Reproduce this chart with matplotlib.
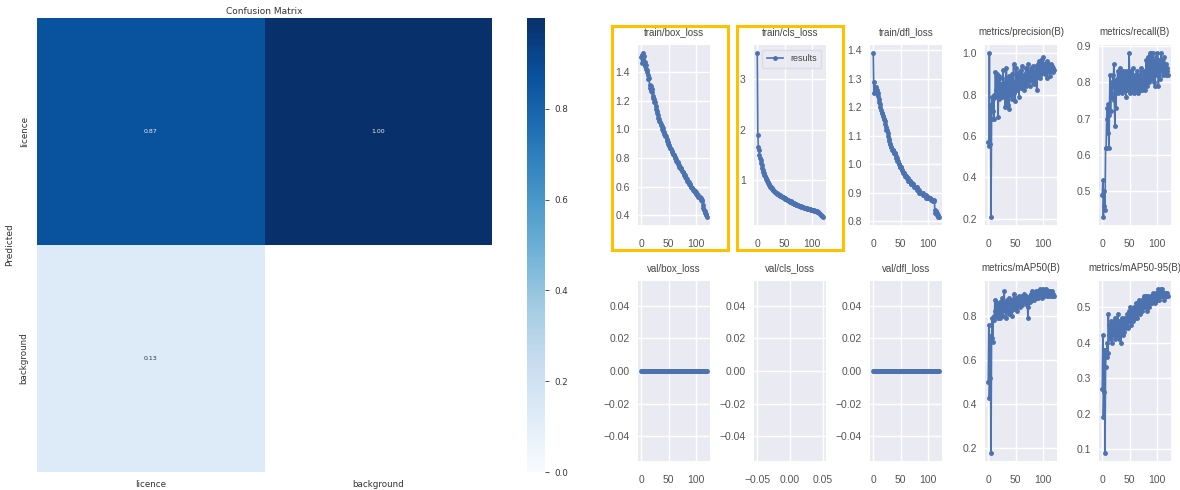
import numpy as np
import matplotlib
matplotlib.use('Agg')
import matplotlib.pyplot as plt
from matplotlib.patches import Rectangle
from matplotlib.ticker import MaxNLocator

# Confusion matrix (normalized)
cm_labels = ['licence', 'background']
cm_values = [[0.87, 1.00],
             [0.13, np.nan]]

# Training results, one value per epoch
epochs = list(range(120))

train_box_loss = [
    1.50, 1.46, 1.52, 1.53, 1.49, 1.51, 1.47, 1.44, 1.45, 1.42,
    1.40, 1.41, 1.38, 1.35, 1.36, 1.31, 1.29, 1.30, 1.27, 1.28,
    1.26, 1.23, 1.22, 1.21, 1.19, 1.19, 1.16, 1.14, 1.13, 1.11,
    1.10, 1.08, 1.07, 1.06, 1.05, 1.04, 1.03, 1.02, 1.00, 1.01,
    0.99, 0.98, 0.97, 0.96, 0.95, 0.95, 0.93, 0.92, 0.91, 0.90,
    0.89, 0.88, 0.87, 0.87, 0.86, 0.85, 0.84, 0.83, 0.83, 0.82,
    0.82, 0.81, 0.80, 0.79, 0.78, 0.77, 0.77, 0.76, 0.75, 0.74,
    0.74, 0.73, 0.73, 0.72, 0.71, 0.70, 0.70, 0.69, 0.68, 0.68,
    0.67, 0.66, 0.66, 0.65, 0.64, 0.63, 0.63, 0.62, 0.62, 0.61,
    0.60, 0.60, 0.59, 0.59, 0.58, 0.58, 0.57, 0.57, 0.56, 0.56,
    0.55, 0.55, 0.54, 0.54, 0.53, 0.53, 0.53, 0.52, 0.52, 0.51,
    0.51, 0.50, 0.47, 0.45, 0.44, 0.43, 0.42, 0.41, 0.40, 0.39]

train_cls_loss = [
    3.52, 1.90, 1.67, 1.60, 1.50, 1.45, 1.40, 1.35, 1.30, 1.25,
    1.20, 1.17, 1.14, 1.10, 1.08, 1.05, 1.03, 1.00, 0.98, 0.96,
    0.95, 0.93, 0.91, 0.90, 0.88, 0.87, 0.85, 0.84, 0.82, 0.81,
    0.80, 0.79, 0.78, 0.77, 0.76, 0.75, 0.74, 0.74, 0.73, 0.72,
    0.72, 0.71, 0.70, 0.70, 0.69, 0.68, 0.68, 0.67, 0.66, 0.66,
    0.65, 0.64, 0.64, 0.63, 0.62, 0.62, 0.61, 0.60, 0.60, 0.59,
    0.58, 0.59, 0.57, 0.56, 0.57, 0.55, 0.55, 0.54, 0.53, 0.54,
    0.53, 0.52, 0.52, 0.51, 0.51, 0.50, 0.50, 0.49, 0.49, 0.49,
    0.48, 0.48, 0.47, 0.47, 0.47, 0.46, 0.46, 0.46, 0.45, 0.45,
    0.45, 0.44, 0.44, 0.44, 0.43, 0.43, 0.43, 0.42, 0.42, 0.42,
    0.42, 0.41, 0.41, 0.41, 0.40, 0.40, 0.40, 0.39, 0.39, 0.38,
    0.38, 0.37, 0.36, 0.35, 0.34, 0.32, 0.31, 0.30, 0.29, 0.28]

train_dfl_loss = [
    1.39, 1.25, 1.29, 1.27, 1.26, 1.27, 1.25, 1.26, 1.25, 1.24,
    1.23, 1.22, 1.21, 1.20, 1.19, 1.18, 1.18, 1.17, 1.17, 1.16,
    1.16, 1.15, 1.14, 1.13, 1.12, 1.12, 1.11, 1.10, 1.09, 1.08,
    1.07, 1.07, 1.06, 1.06, 1.05, 1.05, 1.05, 1.04, 1.04, 1.04,
    1.04, 1.03, 1.02, 1.02, 1.01, 1.01, 1.00, 1.00, 0.99, 0.99,
    0.99, 0.99, 0.98, 0.98, 0.97, 0.97, 0.97, 0.96, 0.96, 0.96,
    0.96, 0.95, 0.95, 0.95, 0.94, 0.94, 0.94, 0.94, 0.93, 0.93,
    0.935, 0.93, 0.93, 0.93, 0.92, 0.92, 0.92, 0.92, 0.92, 0.91,
    0.92, 0.91, 0.91, 0.91, 0.90, 0.90, 0.90, 0.90, 0.90, 0.90,
    0.90, 0.89, 0.89, 0.89, 0.89, 0.89, 0.88, 0.88, 0.88, 0.88,
    0.885, 0.88, 0.88, 0.88, 0.88, 0.875, 0.875, 0.875, 0.87, 0.87,
    0.875, 0.87, 0.84, 0.83, 0.835, 0.83, 0.82, 0.82, 0.815, 0.815]

precision = [
    0.57, 0.55, 1.00, 0.56, 0.75, 0.21, 0.68, 0.79, 0.72, 0.78,
    0.68, 0.80, 0.79, 0.91, 0.82, 0.80, 0.90, 0.86, 0.69, 0.89,
    0.78, 0.88, 0.80, 0.85, 0.81, 0.79, 0.84, 0.92, 0.83, 0.80,
    0.86, 0.74, 0.88, 0.93, 0.81, 0.75, 0.84, 0.89, 0.73, 0.83,
    0.87, 0.80, 0.82, 0.90, 0.78, 0.84, 0.95, 0.81, 0.86, 0.77,
    0.85, 0.93, 0.82, 0.87, 0.84, 0.91, 0.79, 0.88, 0.86, 0.92,
    0.83, 0.89, 0.94, 0.85, 0.88, 0.82, 0.90, 0.87, 0.93, 0.84,
    0.89, 0.86, 0.95, 0.88, 0.91, 0.84, 0.90, 0.93, 0.87, 0.89,
    0.92, 0.86, 0.94, 0.89, 0.85, 0.91, 0.88, 0.94, 0.82, 0.90,
    0.95, 0.89, 0.92, 0.96, 0.88, 0.93, 0.90, 0.97, 0.91, 0.94,
    0.98, 0.92, 0.95, 0.90, 0.94, 0.93, 0.96, 0.88, 0.93, 0.95,
    0.91, 0.94, 0.89, 0.93, 0.95, 0.92, 0.94, 0.91, 0.93, 0.92]

recall = [
    0.49, 0.53, 0.43, 0.50, 0.46, 0.45, 0.62, 0.62, 0.70, 0.73,
    0.66, 0.74, 0.62, 0.71, 0.82, 0.72, 0.77, 0.80, 0.76, 0.82,
    0.79, 0.85, 0.75, 0.68, 0.80, 0.73, 0.81, 0.78, 0.83, 0.77,
    0.80, 0.82, 0.78, 0.84, 0.79, 0.81, 0.77, 0.83, 0.80, 0.78,
    0.82, 0.79, 0.81, 0.76, 0.83, 0.78, 0.80, 0.82, 0.79, 0.88,
    0.80, 0.77, 0.83, 0.79, 0.81, 0.78, 0.84, 0.80, 0.77, 0.82,
    0.79, 0.81, 0.78, 0.83, 0.80, 0.77, 0.82, 0.79, 0.81, 0.78,
    0.80, 0.84, 0.78, 0.81, 0.79, 0.83, 0.80, 0.82, 0.78, 0.81,
    0.86, 0.82, 0.79, 0.87, 0.83, 0.80, 0.88, 0.84, 0.81, 0.88,
    0.85, 0.82, 0.88, 0.83, 0.80, 0.86, 0.79, 0.84, 0.87, 0.82,
    0.88, 0.85, 0.79, 0.83, 0.86, 0.81, 0.84, 0.88, 0.83, 0.86,
    0.82, 0.85, 0.83, 0.87, 0.84, 0.82, 0.85, 0.83, 0.84, 0.82]

val_box_loss = [0.0] * 120
val_cls_loss = []
val_dfl_loss = [0.0] * 120

map50 = [
    0.50, 0.76, 0.43, 0.52, 0.71, 0.18, 0.70, 0.79, 0.68, 0.78,
    0.80, 0.78, 0.87, 0.82, 0.86, 0.80, 0.84, 0.79, 0.85, 0.83,
    0.81, 0.86, 0.79, 0.84, 0.82, 0.88, 0.80, 0.85, 0.83, 0.91,
    0.82, 0.86, 0.84, 0.79, 0.87, 0.83, 0.85, 0.81, 0.88, 0.84,
    0.86, 0.82, 0.85, 0.80, 0.87, 0.84, 0.90, 0.83, 0.86, 0.85,
    0.88, 0.84, 0.87, 0.82, 0.86, 0.89, 0.85, 0.87, 0.84, 0.88,
    0.86, 0.89, 0.85, 0.88, 0.87, 0.90, 0.86, 0.88, 0.87, 0.89,
    0.85, 0.88, 0.79, 0.84, 0.87, 0.89, 0.86, 0.90, 0.88, 0.91,
    0.87, 0.89, 0.88, 0.90, 0.87, 0.89, 0.91, 0.88, 0.90, 0.89,
    0.91, 0.88, 0.90, 0.89, 0.92, 0.89, 0.91, 0.90, 0.88, 0.91,
    0.92, 0.90, 0.89, 0.91, 0.90, 0.92, 0.91, 0.89, 0.91, 0.90,
    0.91, 0.89, 0.90, 0.91, 0.89, 0.90, 0.91, 0.89, 0.90, 0.89]

map50_95 = [
    0.27, 0.42, 0.19, 0.26, 0.38, 0.09, 0.33, 0.38, 0.36, 0.40,
    0.37, 0.48, 0.42, 0.45, 0.41, 0.44, 0.46, 0.43, 0.40, 0.45,
    0.42, 0.46, 0.44, 0.41, 0.47, 0.43, 0.45, 0.42, 0.48, 0.44,
    0.41, 0.46, 0.43, 0.45, 0.40, 0.47, 0.44, 0.46, 0.42, 0.45,
    0.43, 0.47, 0.44, 0.46, 0.45, 0.48, 0.46, 0.44, 0.49, 0.47,
    0.46, 0.50, 0.47, 0.45, 0.49, 0.48, 0.46, 0.50, 0.48, 0.47,
    0.49, 0.51, 0.48, 0.50, 0.47, 0.51, 0.49, 0.52, 0.50, 0.48,
    0.51, 0.50, 0.52, 0.49, 0.51, 0.53, 0.50, 0.52, 0.51, 0.53,
    0.50, 0.52, 0.49, 0.51, 0.53, 0.50, 0.52, 0.51, 0.53, 0.52,
    0.51, 0.53, 0.52, 0.54, 0.52, 0.53, 0.51, 0.54, 0.53, 0.52,
    0.54, 0.53, 0.55, 0.52, 0.54, 0.53, 0.55, 0.54, 0.53, 0.55,
    0.54, 0.53, 0.54, 0.52, 0.54, 0.53, 0.54, 0.53, 0.54, 0.53]

panel_titles = ['train/box_loss', 'train/cls_loss', 'train/dfl_loss',
                'metrics/precision(B)', 'metrics/recall(B)',
                'val/box_loss', 'val/cls_loss', 'val/dfl_loss',
                'metrics/mAP50(B)', 'metrics/mAP50-95(B)']
panel_data = [train_box_loss, train_cls_loss, train_dfl_loss, precision, recall,
              val_box_loss, val_cls_loss, val_dfl_loss, map50, map50_95]

W, H = 1180, 490
fig = plt.figure(figsize=(W / 100, H / 100), dpi=100)

res_font = 'Liberation Sans'


def px_axes(left, top, width, height):
    return fig.add_axes([left / W, 1 - (top + height) / H, width / W, height / H])


# ---- confusion matrix ----
ax = px_axes(37, 18, 455, 454)
data = np.ma.masked_invalid(np.array(cm_values))
mesh = ax.pcolormesh(data, cmap='Blues', vmin=0.0, vmax=1.0)
ax.set_xlim(0, 2)
ax.set_ylim(2, 0)
for i in range(2):
    for j in range(2):
        v = cm_values[i][j]
        if np.isnan(v):
            continue
        ax.text(j + 0.5, i + 0.5, f'{v:.2f}', ha='center', va='center',
                fontsize=4.5, color='#f0f0f0' if v > 0.5 else '#333333')
ax.set_xticks([0.5, 1.5])
ax.set_xticklabels(cm_labels, fontsize=6.3, color='#333333')
ax.set_yticks([0.5, 1.5])
ax.set_yticklabels(cm_labels, fontsize=6.3, color='#333333', rotation=90, va='center')
ax.tick_params(length=0, pad=6)
ax.set_ylabel('Predicted', fontsize=6.5, color='#333333', labelpad=4)
ax.set_title('Confusion Matrix', fontsize=6.5, color='#333333', pad=3)
for s in ax.spines.values():
    s.set_visible(False)

cax = px_axes(527, 18, 18, 454)
cb = fig.colorbar(mesh, cax=cax)
cb.set_ticks([0.0, 0.2, 0.4, 0.6, 0.8])
cb.outline.set_visible(False)
cax.tick_params(labelsize=6.3, length=3, width=0.6, colors='#333333')

# ---- training results grid ----
lefts = [638, 754, 870, 985, 1099]
tops = [45, 281]
for k, (title, y) in enumerate(zip(panel_titles, panel_data)):
    r, c = divmod(k, 5)
    a = px_axes(lefts[c], tops[r], 72, 180)
    a.set_facecolor('#EAEAF2')
    a.grid(True, color='white', linewidth=1.0)
    a.set_axisbelow(True)
    for s in a.spines.values():
        s.set_visible(False)
    a.plot(epochs[:len(y)], y, marker='.', linewidth=1.2, markersize=5,
           color='#4C72B0', label='results')
    if len(y) == 0:
        a.set_xlim(-0.055, 0.055)
        a.set_ylim(-0.055, 0.055)
    a.xaxis.set_major_locator(MaxNLocator(nbins=3, steps=[1, 2, 5, 10]))
    a.yaxis.set_major_locator(MaxNLocator(nbins=7, steps=[1, 2, 5, 10]))
    a.set_title(title, fontsize=7, color='#444444', family=res_font, pad=7)
    a.tick_params(axis='y', length=0, labelsize=7.5, labelcolor='#555555', pad=6)
    a.tick_params(axis='x', length=0, labelsize=7.5, labelcolor='#555555', pad=10)
    for lab in a.get_xticklabels() + a.get_yticklabels():
        lab.set_family(res_font)
    if title == 'train/cls_loss':
        a.legend(loc='upper right', prop={'family': res_font, 'size': 6.5},
                 facecolor='#EAEAF2', edgecolor='#d8d8e0', handlelength=1.8,
                 borderpad=0.5, labelcolor='#444444')

# yellow highlight boxes
for x0, x1 in [(611.5, 727.5), (736.5, 842.5)]:
    fig.patches.append(Rectangle((x0 / W, 1 - 250.5 / H), (x1 - x0) / W, 224 / H,
                                 transform=fig.transFigure, fill=False,
                                 edgecolor='#FFC000', linewidth=2.2))

fig.savefig('out.png', dpi=100)
